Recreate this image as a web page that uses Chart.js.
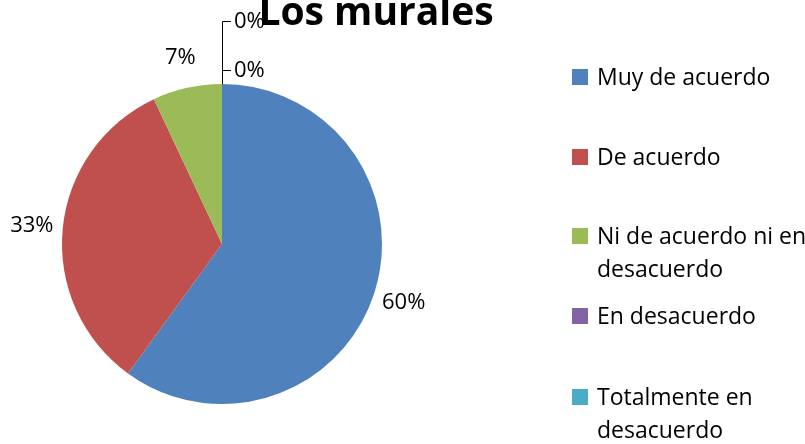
<!DOCTYPE html>
<html>
<head>
<meta charset="utf-8">
<script src="https://cdn.jsdelivr.net/npm/chart.js@4/dist/chart.umd.min.js"></script>
<style>
  html, body { margin: 0; padding: 0; background: #fff; }
  #wrap { width: 805px; height: 444px; }
</style>
</head>
<body>
<div id="wrap"><canvas id="c" width="805" height="444"></canvas></div>
<script>
// Los murales - pie, etiquetas % y leyenda dibujadas con plugins propios

var categories = [
  ['Muy de acuerdo'],
  ['De acuerdo'],
  ['Ni de acuerdo ni en', 'desacuerdo'],
  ['En desacuerdo'],
  ['Totalmente en', 'desacuerdo']
];
var values = [60, 33, 7, 0, 0];
var valueLabels = ['60%', '33%', '7%', '0%', '0%'];
var colors = ['#4F81BD', '#C0504D', '#9BBB59', '#8064A2', '#4BACC6'];
var titleText = 'Los murales';

var FONT = '"Open Sans", "Noto Sans", sans-serif';

// etiquetas de porcentaje (las de 0% van apiladas encima con línea guía)
var pctLabelPlugin = {
  id: 'pctLabels',
  afterDatasetsDraw: function (chart) {
    var ctx = chart.ctx;
    var arcs = chart.getDatasetMeta(0).data;
    var zeroIdx = 0;
    ctx.save();
    ctx.font = '22px ' + FONT;
    ctx.fillStyle = '#000';
    for (var i = 0; i < arcs.length; i++) {
      var a = arcs[i];
      var r = a.outerRadius;
      if (values[i] === 0) {
        var topY = a.y - r;
        var ly = topY - 14 - 49 * zeroIdx;
        ctx.strokeStyle = '#000';
        ctx.lineWidth = 1;
        ctx.beginPath();
        ctx.moveTo(a.x + 0.5, topY);
        ctx.lineTo(a.x + 0.5, ly + 0.5);
        ctx.lineTo(a.x + 9, ly + 0.5);
        ctx.stroke();
        ctx.textAlign = 'left';
        ctx.textBaseline = 'middle';
        ctx.fillText(valueLabels[i], a.x + 12, ly + 1);
        zeroIdx++;
        continue;
      }
      var mid = (a.startAngle + a.endAngle) / 2;
      var d = r + 31;
      ctx.textAlign = 'center';
      ctx.textBaseline = 'middle';
      ctx.fillText(valueLabels[i], a.x + Math.cos(mid) * d, a.y + Math.sin(mid) * d);
    }
    ctx.restore();
  }
};

// título y leyenda a la derecha
var sideLegendPlugin = {
  id: 'sideLegend',
  afterDraw: function (chart) {
    var ctx = chart.ctx;
    ctx.save();
    ctx.fillStyle = '#000';
    ctx.font = 'bold 39px ' + FONT;
    ctx.textAlign = 'center';
    ctx.textBaseline = 'alphabetic';
    ctx.fillText(titleText, 376, 25);

    var baselines = [85, 165, 244, 324, 405];
    ctx.font = '23px ' + FONT;
    ctx.textAlign = 'left';
    for (var i = 0; i < categories.length; i++) {
      var b = baselines[i];
      ctx.fillStyle = colors[i];
      ctx.fillRect(572, b - 16, 16, 16);
      ctx.fillStyle = '#000';
      for (var j = 0; j < categories[i].length; j++) {
        ctx.fillText(categories[i][j], 597, b + j * 33);
      }
    }
    ctx.restore();
  }
};

new Chart(document.getElementById('c'), {
  type: 'pie',
  data: {
    labels: categories,
    datasets: [{
      data: values,
      backgroundColor: colors,
      borderWidth: 0
    }]
  },
  options: {
    responsive: false,
    animation: false,
    layout: { padding: { left: 62, right: 423, top: 84, bottom: 40 } },
    plugins: {
      legend: { display: false },
      title: { display: false },
      tooltip: { enabled: false }
    }
  },
  plugins: [pctLabelPlugin, sideLegendPlugin]
});
</script>
</body>
</html>
